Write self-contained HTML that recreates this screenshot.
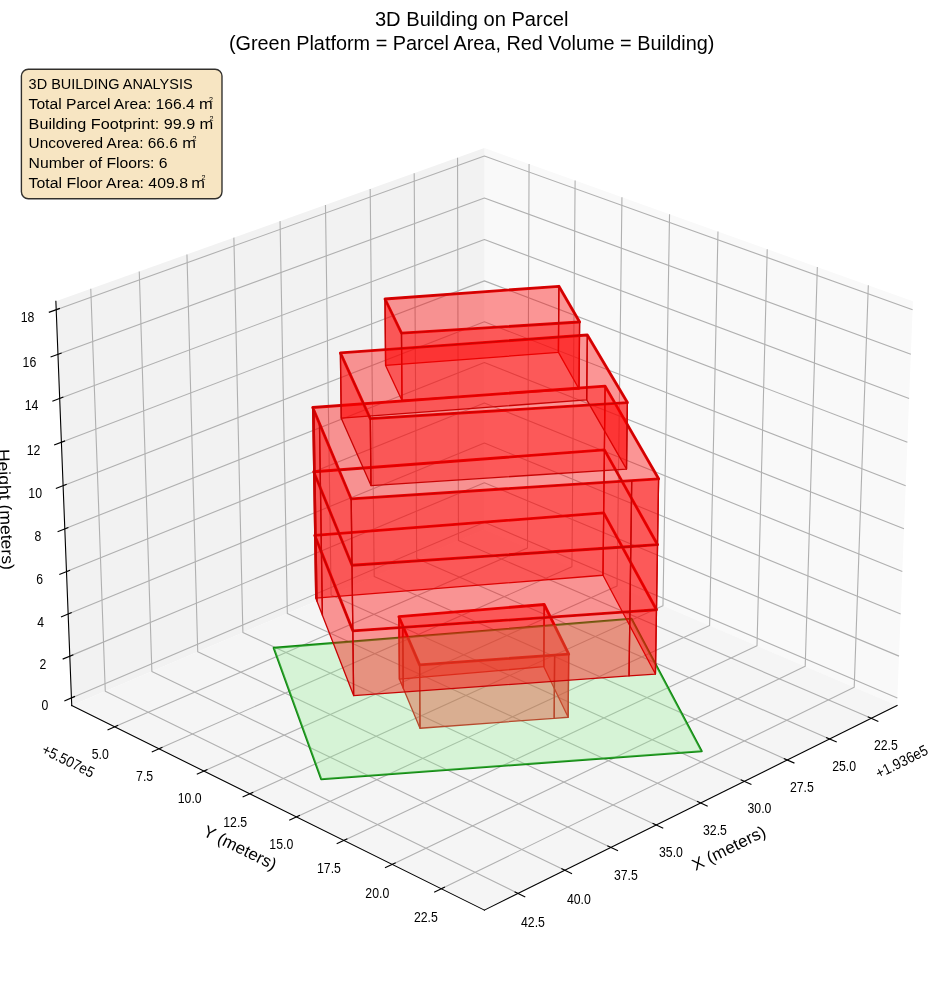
<!DOCTYPE html>
<html><head><meta charset="utf-8"><title>3D Building on Parcel</title>
<style>html,body{margin:0;padding:0;background:#fff}svg{display:block;will-change:transform}</style></head>
<body>
<svg width="944" height="992" viewBox="0 0 944 992" font-family="'Liberation Sans', sans-serif" fill="#000">
<rect width="944" height="992" fill="#fff"/>
<g stroke="none">
<polygon points="484.40,529.50 897.06,705.57 912.93,301.26 484.40,148.08" fill="#f9f9f9"/>
<polygon points="484.40,529.50 71.74,705.57 55.87,301.26 484.40,148.08" fill="#f2f2f2"/>
<polygon points="484.40,529.50 71.74,705.57 484.40,910.13 897.06,705.57" fill="#f5f5f5"/>
</g>
<g fill="none" stroke="#b0b0b0" stroke-width="1.11" stroke-linejoin="round">
<polyline points="871.26,718.35 458.47,540.57 457.54,157.68"/>
<polyline points="829.63,738.99 416.65,558.41 414.20,173.17"/>
<polyline points="787.31,759.97 374.20,576.52 370.19,188.91"/>
<polyline points="744.30,781.29 331.10,594.91 325.47,204.89"/>
<polyline points="700.56,802.97 287.33,613.58 280.04,221.13"/>
<polyline points="656.10,825.02 242.88,632.55 233.87,237.63"/>
<polyline points="610.88,847.43 197.73,651.81 186.95,254.41"/>
<polyline points="564.89,870.23 151.87,671.38 139.26,271.45"/>
<polyline points="518.11,893.42 105.28,691.26 90.78,288.78"/>
<polyline points="529.06,164.04 527.51,547.89 114.64,726.83"/>
<polyline points="575.11,180.51 571.94,566.85 158.90,748.77"/>
<polyline points="621.94,197.24 617.09,586.11 203.93,771.09"/>
<polyline points="669.55,214.26 662.97,605.69 249.74,793.80"/>
<polyline points="717.98,231.57 709.60,625.59 296.37,816.92"/>
<polyline points="767.23,249.18 757.01,645.81 343.83,840.45"/>
<polyline points="817.34,267.09 805.20,666.37 392.14,864.40"/>
<polyline points="868.32,285.31 854.21,687.28 441.33,888.78"/>
<polyline points="71.44,697.89 484.40,522.25 897.36,697.89"/>
<polyline points="69.80,656.13 484.40,482.76 899.00,656.13"/>
<polyline points="68.15,614.04 484.40,442.97 900.65,614.04"/>
<polyline points="66.49,571.60 484.40,402.90 902.32,571.60"/>
<polyline points="64.81,528.83 484.40,362.52 903.99,528.83"/>
<polyline points="63.11,485.71 484.40,321.84 905.69,485.71"/>
<polyline points="61.41,442.25 484.40,280.86 907.39,442.25"/>
<polyline points="59.69,398.42 484.40,239.56 909.11,398.42"/>
<polyline points="57.95,354.24 484.40,197.95 910.85,354.24"/>
<polyline points="56.21,309.70 484.40,156.03 912.60,309.70"/>
</g>
<g stroke-linejoin="round" stroke-linecap="round" fill="none">
<polygon points="273.70,647.89 321.20,779.19 701.71,751.20 631.50,618.80" stroke="rgb(14,135,14)" stroke-width="2.08"/>
<polygon points="398.89,616.70 402.77,625.72 419.61,664.89 554.61,655.12 568.70,654.10 544.19,604.50" stroke="rgb(226,0,0)" stroke-width="2.85"/>
<polygon points="314.74,535.31 316.01,538.52 321.44,552.14 352.84,630.81 629.92,611.62 656.48,609.77 603.69,512.94" stroke="rgb(226,0,0)" stroke-width="2.85"/>
<polygon points="313.73,471.78 315.01,474.93 320.47,488.26 352.02,565.29 630.82,546.49 657.54,544.69 604.39,449.89" stroke="rgb(226,0,0)" stroke-width="2.85"/>
<polygon points="312.71,407.50 314.00,410.57 319.48,423.61 351.20,498.95 631.72,480.56 658.61,478.80 605.10,386.10" stroke="rgb(226,0,0)" stroke-width="2.85"/>
<polygon points="340.40,352.90 370.30,418.70 627.39,402.60 587.31,335.00" stroke="rgb(226,0,0)" stroke-width="2.85"/>
<polygon points="385.00,299.00 401.49,333.20 579.61,322.00 558.89,286.30" stroke="rgb(226,0,0)" stroke-width="2.85"/>
</g>
<g stroke-linejoin="round" stroke-linecap="round">
<g fill="#ff0000" fill-opacity="0.4" stroke="rgb(200,4,4)" stroke-width="1.3">
<polygon points="543.84,666.67 399.40,679.10 398.89,616.70 544.19,604.50"/>
<polygon points="399.40,679.10 403.25,688.31 402.77,625.72 398.89,616.70"/>
<polygon points="568.19,717.24 543.84,666.67 544.19,604.50 568.70,654.10"/>
<polygon points="403.25,688.31 419.99,728.24 419.61,664.89 402.77,625.72"/>
<polygon points="554.19,718.28 568.19,717.24 568.70,654.10 554.61,655.12"/>
<polygon points="419.99,728.24 554.19,718.28 554.61,655.12 419.61,664.89"/>
</g>
<polygon points="273.70,647.89 321.20,779.19 701.71,751.20 631.50,618.80" fill="rgb(144,238,144)" fill-opacity="0.3" stroke="none"/>
<g fill="#ff0000" fill-opacity="0.4" stroke="rgb(200,4,4)" stroke-width="1.3">
<polygon points="603.00,575.26 315.73,598.08 314.74,535.31 603.69,512.94"/>
<polygon points="315.73,598.08 317.00,601.36 316.01,538.52 314.74,535.31"/>
<polygon points="317.00,601.36 322.41,615.26 321.44,552.14 316.01,538.52"/>
<polygon points="655.44,674.07 603.00,575.26 603.69,512.94 656.48,609.77"/>
<polygon points="322.41,615.26 353.64,695.53 352.84,630.81 321.44,552.14"/>
<polygon points="629.04,675.95 655.44,674.07 656.48,609.77 629.92,611.62"/>
<polygon points="353.64,695.53 629.04,675.95 629.92,611.62 352.84,630.81"/>
</g>
<g fill="#ff0000" fill-opacity="0.4" stroke="rgb(200,4,4)" stroke-width="1.3">
<polygon points="603.69,512.94 314.74,535.31 313.73,471.78 604.39,449.89"/>
<polygon points="314.74,535.31 316.01,538.52 315.01,474.93 313.73,471.78"/>
<polygon points="316.01,538.52 321.44,552.14 320.47,488.26 315.01,474.93"/>
<polygon points="656.48,609.77 603.69,512.94 604.39,449.89 657.54,544.69"/>
<polygon points="321.44,552.14 352.84,630.81 352.02,565.29 320.47,488.26"/>
<polygon points="629.92,611.62 656.48,609.77 657.54,544.69 630.82,546.49"/>
<polygon points="352.84,630.81 629.92,611.62 630.82,546.49 352.02,565.29"/>
</g>
<g fill="#ff0000" fill-opacity="0.4" stroke="rgb(200,4,4)" stroke-width="1.3">
<polygon points="558.43,352.39 385.60,365.41 385.00,299.00 558.89,286.30"/>
<polygon points="579.02,388.98 558.43,352.39 558.89,286.30 579.61,322.00"/>
<polygon points="385.60,365.41 402.00,400.46 401.49,333.20 385.00,299.00"/>
<polygon points="402.00,400.46 579.02,388.98 579.61,322.00 401.49,333.20"/>
</g>
<g fill="#ff0000" fill-opacity="0.4" stroke="rgb(200,4,4)" stroke-width="1.3">
<polygon points="604.39,449.89 313.73,471.78 312.71,407.50 605.10,386.10"/>
<polygon points="313.73,471.78 315.01,474.93 314.00,410.57 312.71,407.50"/>
<polygon points="315.01,474.93 320.47,488.26 319.48,423.61 314.00,410.57"/>
<polygon points="657.54,544.69 604.39,449.89 605.10,386.10 658.61,478.80"/>
<polygon points="320.47,488.26 352.02,565.29 351.20,498.95 319.48,423.61"/>
<polygon points="630.82,546.49 657.54,544.69 658.61,478.80 631.72,480.56"/>
<polygon points="352.02,565.29 630.82,546.49 631.72,480.56 351.20,498.95"/>
</g>
<g fill="#ff0000" fill-opacity="0.4" stroke="rgb(200,4,4)" stroke-width="1.3">
<polygon points="586.70,399.88 341.26,418.21 340.40,352.90 587.31,335.00"/>
<polygon points="626.52,469.09 586.70,399.88 587.31,335.00 627.39,402.60"/>
<polygon points="341.26,418.21 371.00,485.56 370.30,418.70 340.40,352.90"/>
<polygon points="371.00,485.56 626.52,469.09 627.39,402.60 370.30,418.70"/>
</g>
</g>
<g fill="none" stroke="#000" stroke-width="1.11" stroke-linecap="square">
<polyline points="897.06,705.57 484.40,910.13"/>
<polyline points="71.74,705.57 484.40,910.13"/>
<polyline points="71.74,705.57 55.87,301.26"/>
</g>
<g fill="none" stroke="#000" stroke-width="1.11" stroke-linecap="butt">
<polyline points="867.71,716.83 878.37,721.42"/>
<polyline points="826.07,737.44 836.74,742.11"/>
<polyline points="783.76,758.39 794.43,763.13"/>
<polyline points="740.74,779.69 751.43,784.51"/>
<polyline points="697.00,801.34 707.70,806.24"/>
<polyline points="652.54,823.36 663.24,828.34"/>
<polyline points="607.32,845.74 618.02,850.81"/>
<polyline points="561.32,868.51 572.03,873.67"/>
<polyline points="514.54,891.68 525.25,896.92"/>
<polyline points="118.19,725.29 107.52,729.91"/>
<polyline points="162.45,747.20 151.78,751.91"/>
<polyline points="207.48,769.50 196.80,774.28"/>
<polyline points="253.30,792.18 242.61,797.05"/>
<polyline points="299.93,815.27 289.23,820.22"/>
<polyline points="347.39,838.77 336.69,843.81"/>
<polyline points="395.71,862.69 385.00,867.82"/>
<polyline points="444.90,887.04 434.19,892.27"/>
<polyline points="74.99,696.38 64.33,700.92"/>
<polyline points="73.37,654.64 62.66,659.12"/>
<polyline points="71.73,612.57 60.98,616.98"/>
<polyline points="70.08,570.15 59.28,574.51"/>
<polyline points="68.42,527.40 57.57,531.70"/>
<polyline points="66.74,484.30 55.85,488.54"/>
<polyline points="65.05,440.86 54.11,445.03"/>
<polyline points="63.35,397.06 52.36,401.16"/>
<polyline points="61.63,352.90 50.59,356.94"/>
<polyline points="59.90,308.38 48.81,312.36"/>
</g>
<g font-size="15.1" text-anchor="middle">
<text x="885.9" y="750.3" textLength="23.9" lengthAdjust="spacingAndGlyphs">22.5</text>
<text x="844.1" y="770.5" textLength="23.9" lengthAdjust="spacingAndGlyphs">25.0</text>
<text x="801.9" y="792.3" textLength="23.9" lengthAdjust="spacingAndGlyphs">27.5</text>
<text x="759.5" y="813.2" textLength="23.9" lengthAdjust="spacingAndGlyphs">30.0</text>
<text x="715.0" y="835.2" textLength="23.9" lengthAdjust="spacingAndGlyphs">32.5</text>
<text x="671.0" y="857.1" textLength="23.9" lengthAdjust="spacingAndGlyphs">35.0</text>
<text x="625.9" y="880.1" textLength="23.9" lengthAdjust="spacingAndGlyphs">37.5</text>
<text x="578.9" y="903.5" textLength="23.9" lengthAdjust="spacingAndGlyphs">40.0</text>
<text x="533.0" y="926.7" textLength="23.9" lengthAdjust="spacingAndGlyphs">42.5</text>
<text x="100.2" y="758.5" textLength="17.1" lengthAdjust="spacingAndGlyphs">5.0</text>
<text x="144.6" y="780.6" textLength="17.1" lengthAdjust="spacingAndGlyphs">7.5</text>
<text x="189.7" y="803.4" textLength="23.9" lengthAdjust="spacingAndGlyphs">10.0</text>
<text x="235.2" y="826.7" textLength="23.9" lengthAdjust="spacingAndGlyphs">12.5</text>
<text x="281.3" y="849.3" textLength="23.9" lengthAdjust="spacingAndGlyphs">15.0</text>
<text x="329.0" y="873.2" textLength="23.9" lengthAdjust="spacingAndGlyphs">17.5</text>
<text x="377.3" y="897.5" textLength="23.9" lengthAdjust="spacingAndGlyphs">20.0</text>
<text x="425.9" y="922.3" textLength="23.9" lengthAdjust="spacingAndGlyphs">22.5</text>
<text x="27.5" y="322.3" textLength="13.7" lengthAdjust="spacingAndGlyphs">18</text>
<text x="29.4" y="366.8" textLength="13.7" lengthAdjust="spacingAndGlyphs">16</text>
<text x="31.5" y="410.4" textLength="13.7" lengthAdjust="spacingAndGlyphs">14</text>
<text x="33.5" y="454.6" textLength="13.7" lengthAdjust="spacingAndGlyphs">12</text>
<text x="35.2" y="498.3" textLength="13.7" lengthAdjust="spacingAndGlyphs">10</text>
<text x="37.9" y="541.0" textLength="6.8" lengthAdjust="spacingAndGlyphs">8</text>
<text x="39.7" y="584.3" textLength="6.8" lengthAdjust="spacingAndGlyphs">6</text>
<text x="40.7" y="626.9" textLength="6.8" lengthAdjust="spacingAndGlyphs">4</text>
<text x="42.9" y="669.2" textLength="6.8" lengthAdjust="spacingAndGlyphs">2</text>
<text x="44.8" y="710.0" textLength="6.8" lengthAdjust="spacingAndGlyphs">0</text>
</g>
<text font-size="15.1" text-anchor="middle" transform="translate(901.6,761.3) rotate(-26.37)" y="5.4" textLength="56.3" lengthAdjust="spacingAndGlyphs">+1.936e5</text>
<text font-size="15.1" text-anchor="middle" transform="translate(68.4,760.6) rotate(26.37)" y="5.4" textLength="56.3" lengthAdjust="spacingAndGlyphs">+5.507e5</text>
<text font-size="16.67" text-anchor="middle" transform="translate(729.0,848.5) rotate(-26.37)" y="5.2" textLength="80" lengthAdjust="spacingAndGlyphs">X (meters)</text>
<text font-size="16.67" text-anchor="middle" transform="translate(239.9,848.1) rotate(26.37)" y="5.2" textLength="79.5" lengthAdjust="spacingAndGlyphs">Y (meters)</text>
<text font-size="16.67" text-anchor="middle" transform="translate(5.2,509.4) rotate(87.75)" y="5.2" textLength="121" lengthAdjust="spacingAndGlyphs">Height (meters)</text>
<text font-size="20.1" text-anchor="middle" x="471.7" y="26.0" textLength="193.6" lengthAdjust="spacingAndGlyphs">3D Building on Parcel</text>
<text font-size="20.1" text-anchor="middle" x="471.7" y="50.3" textLength="485.6" lengthAdjust="spacingAndGlyphs">(Green Platform = Parcel Area, Red Volume = Building)</text>
<rect x="21.4" y="69.2" width="200.6" height="129.5" rx="6.9" ry="6.9" fill="rgb(245,222,179)" fill-opacity="0.8" stroke="#000" stroke-opacity="0.8" stroke-width="1.39"/>
<g font-size="15.1">
<text x="28.6" y="89.3" textLength="164.0" lengthAdjust="spacingAndGlyphs">3D BUILDING ANALYSIS</text>
<text x="28.6" y="109.4" textLength="166.2" lengthAdjust="spacingAndGlyphs">Total Parcel Area: 166.4</text>
<text x="198.9" y="109.4" font-size="15.2" textLength="13.7" lengthAdjust="spacingAndGlyphs">m</text>
<text x="209.0" y="102.0" font-size="7.2">2</text>
<text x="28.6" y="128.5" textLength="166.6" lengthAdjust="spacingAndGlyphs">Building Footprint: 99.9</text>
<text x="199.5" y="128.5" font-size="15.2" textLength="13.7" lengthAdjust="spacingAndGlyphs">m</text>
<text x="209.4" y="121.1" font-size="7.2">2</text>
<text x="28.6" y="148.4" textLength="149.2" lengthAdjust="spacingAndGlyphs">Uncovered Area: 66.6</text>
<text x="182.2" y="148.4" font-size="15.2" textLength="13.7" lengthAdjust="spacingAndGlyphs">m</text>
<text x="192.5" y="141.0" font-size="7.2">2</text>
<text x="28.6" y="167.9" textLength="139.0" lengthAdjust="spacingAndGlyphs">Number of Floors: 6</text>
<text x="28.6" y="187.5" textLength="159.4" lengthAdjust="spacingAndGlyphs">Total Floor Area: 409.8</text>
<text x="191.3" y="187.5" font-size="15.2" textLength="13.7" lengthAdjust="spacingAndGlyphs">m</text>
<text x="201.4" y="180.1" font-size="7.2">2</text>
</g>
</svg>
</body></html>
